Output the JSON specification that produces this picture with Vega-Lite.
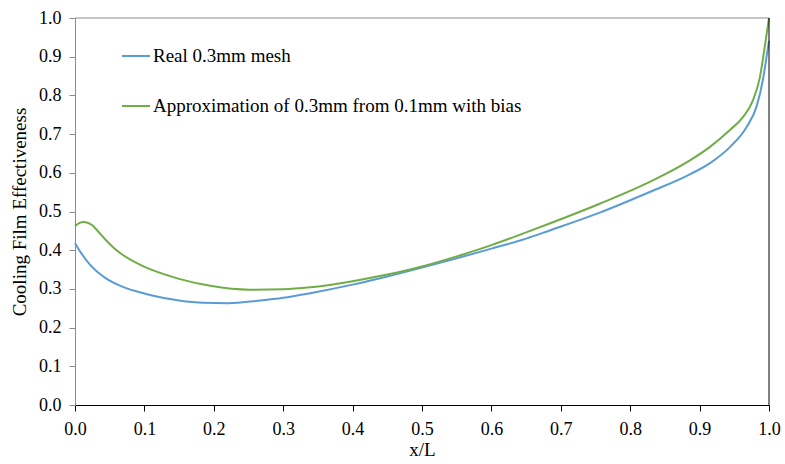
{
  "$schema": "https://vega.github.io/schema/vega-lite/v6.json",
  "width": 694,
  "height": 387,
  "autosize": {"type": "none"},
  "padding": {"left": 75, "top": 18, "right": 16, "bottom": 59},
  "background": "white",
  "config": {
    "view": {"stroke": null},
    "font": "Liberation Serif",
    "axis": {"labelFont": "Liberation Serif", "titleFont": "Liberation Serif", "labelColor": "#000", "titleColor": "#000", "titleFontWeight": "normal", "grid": false, "labelOverlap": false, "labelFlush": false}
  },
  "datasets": {
    "curves": [
      {"xL": 0, "eff": 0.418, "series": "Real 0.3mm mesh"},
      {"xL": 0.008, "eff": 0.395, "series": "Real 0.3mm mesh"},
      {"xL": 0.02, "eff": 0.366, "series": "Real 0.3mm mesh"},
      {"xL": 0.032, "eff": 0.344, "series": "Real 0.3mm mesh"},
      {"xL": 0.044, "eff": 0.328, "series": "Real 0.3mm mesh"},
      {"xL": 0.068, "eff": 0.306, "series": "Real 0.3mm mesh"},
      {"xL": 0.092, "eff": 0.292, "series": "Real 0.3mm mesh"},
      {"xL": 0.111, "eff": 0.283, "series": "Real 0.3mm mesh"},
      {"xL": 0.15, "eff": 0.27, "series": "Real 0.3mm mesh"},
      {"xL": 0.185, "eff": 0.264, "series": "Real 0.3mm mesh"},
      {"xL": 0.22, "eff": 0.263, "series": "Real 0.3mm mesh"},
      {"xL": 0.267, "eff": 0.27, "series": "Real 0.3mm mesh"},
      {"xL": 0.3, "eff": 0.277, "series": "Real 0.3mm mesh"},
      {"xL": 0.339, "eff": 0.289, "series": "Real 0.3mm mesh"},
      {"xL": 0.4, "eff": 0.311, "series": "Real 0.3mm mesh"},
      {"xL": 0.45, "eff": 0.332, "series": "Real 0.3mm mesh"},
      {"xL": 0.5, "eff": 0.355, "series": "Real 0.3mm mesh"},
      {"xL": 0.55, "eff": 0.379, "series": "Real 0.3mm mesh"},
      {"xL": 0.6, "eff": 0.404, "series": "Real 0.3mm mesh"},
      {"xL": 0.65, "eff": 0.43, "series": "Real 0.3mm mesh"},
      {"xL": 0.684, "eff": 0.451, "series": "Real 0.3mm mesh"},
      {"xL": 0.756, "eff": 0.497, "series": "Real 0.3mm mesh"},
      {"xL": 0.829, "eff": 0.551, "series": "Real 0.3mm mesh"},
      {"xL": 0.886, "eff": 0.596, "series": "Real 0.3mm mesh"},
      {"xL": 0.915, "eff": 0.625, "series": "Real 0.3mm mesh"},
      {"xL": 0.944, "eff": 0.667, "series": "Real 0.3mm mesh"},
      {"xL": 0.968, "eff": 0.719, "series": "Real 0.3mm mesh"},
      {"xL": 0.982, "eff": 0.771, "series": "Real 0.3mm mesh"},
      {"xL": 0.992, "eff": 0.848, "series": "Real 0.3mm mesh"},
      {"xL": 0.997, "eff": 0.906, "series": "Real 0.3mm mesh"},
      {"xL": 1.0, "eff": 0.941, "series": "Real 0.3mm mesh"},
      {"xL": 0, "eff": 0.462, "series": "Approximation of 0.3mm from 0.1mm with bias"},
      {"xL": 0.006, "eff": 0.47, "series": "Approximation of 0.3mm from 0.1mm with bias"},
      {"xL": 0.0125, "eff": 0.473, "series": "Approximation of 0.3mm from 0.1mm with bias"},
      {"xL": 0.0245, "eff": 0.465, "series": "Approximation of 0.3mm from 0.1mm with bias"},
      {"xL": 0.034, "eff": 0.447, "series": "Approximation of 0.3mm from 0.1mm with bias"},
      {"xL": 0.044, "eff": 0.427, "series": "Approximation of 0.3mm from 0.1mm with bias"},
      {"xL": 0.056, "eff": 0.406, "series": "Approximation of 0.3mm from 0.1mm with bias"},
      {"xL": 0.068, "eff": 0.389, "series": "Approximation of 0.3mm from 0.1mm with bias"},
      {"xL": 0.092, "eff": 0.364, "series": "Approximation of 0.3mm from 0.1mm with bias"},
      {"xL": 0.111, "eff": 0.349, "series": "Approximation of 0.3mm from 0.1mm with bias"},
      {"xL": 0.15, "eff": 0.326, "series": "Approximation of 0.3mm from 0.1mm with bias"},
      {"xL": 0.195, "eff": 0.308, "series": "Approximation of 0.3mm from 0.1mm with bias"},
      {"xL": 0.252, "eff": 0.298, "series": "Approximation of 0.3mm from 0.1mm with bias"},
      {"xL": 0.3, "eff": 0.299, "series": "Approximation of 0.3mm from 0.1mm with bias"},
      {"xL": 0.339, "eff": 0.304, "series": "Approximation of 0.3mm from 0.1mm with bias"},
      {"xL": 0.4, "eff": 0.32, "series": "Approximation of 0.3mm from 0.1mm with bias"},
      {"xL": 0.45, "eff": 0.337, "series": "Approximation of 0.3mm from 0.1mm with bias"},
      {"xL": 0.5, "eff": 0.358, "series": "Approximation of 0.3mm from 0.1mm with bias"},
      {"xL": 0.55, "eff": 0.384, "series": "Approximation of 0.3mm from 0.1mm with bias"},
      {"xL": 0.6, "eff": 0.413, "series": "Approximation of 0.3mm from 0.1mm with bias"},
      {"xL": 0.65, "eff": 0.446, "series": "Approximation of 0.3mm from 0.1mm with bias"},
      {"xL": 0.684, "eff": 0.469, "series": "Approximation of 0.3mm from 0.1mm with bias"},
      {"xL": 0.756, "eff": 0.52, "series": "Approximation of 0.3mm from 0.1mm with bias"},
      {"xL": 0.829, "eff": 0.577, "series": "Approximation of 0.3mm from 0.1mm with bias"},
      {"xL": 0.886, "eff": 0.632, "series": "Approximation of 0.3mm from 0.1mm with bias"},
      {"xL": 0.915, "eff": 0.667, "series": "Approximation of 0.3mm from 0.1mm with bias"},
      {"xL": 0.944, "eff": 0.711, "series": "Approximation of 0.3mm from 0.1mm with bias"},
      {"xL": 0.963, "eff": 0.745, "series": "Approximation of 0.3mm from 0.1mm with bias"},
      {"xL": 0.977, "eff": 0.788, "series": "Approximation of 0.3mm from 0.1mm with bias"},
      {"xL": 0.987, "eff": 0.848, "series": "Approximation of 0.3mm from 0.1mm with bias"},
      {"xL": 0.993, "eff": 0.915, "series": "Approximation of 0.3mm from 0.1mm with bias"},
      {"xL": 1.0, "eff": 1.0, "series": "Approximation of 0.3mm from 0.1mm with bias"}
    ]
  },
  "layer": [
    {
      "data": {"name": "curves"},
      "mark": {"type": "line", "strokeWidth": 2, "interpolate": "monotone", "clip": false},
      "encoding": {
        "x": {
          "field": "xL", "type": "quantitative",
          "scale": {"domain": [0, 1], "nice": false},
          "axis": {"title": "x/L", "values": [0, 0.1, 0.2, 0.3, 0.4, 0.5, 0.6, 0.7, 0.8, 0.9, 1.0], "tickCount": 11, "format": ".1f",
                   "labelFontSize": 18, "titleFontSize": 19, "domainColor": "#000", "tickColor": "#000", "tickSize": 6,
                   "labelPadding": 9, "titlePadding": 2, "labelOverlap": false}
        },
        "y": {
          "field": "eff", "type": "quantitative",
          "scale": {"domain": [0, 1], "nice": false},
          "axis": {"title": "Cooling Film Effectiveness", "values": [0, 0.1, 0.2, 0.3, 0.4, 0.5, 0.6, 0.7, 0.8, 0.9, 1.0], "tickCount": 11, "format": ".1f",
                   "labelFontSize": 18, "titleFontSize": 19, "domainColor": "#8c8c8c", "tickColor": "#8c8c8c", "tickSize": 6,
                   "labelPadding": 8, "titlePadding": 9, "labelOverlap": false}
        },
        "color": {
          "field": "series", "type": "nominal",
          "scale": {"domain": ["Real 0.3mm mesh", "Approximation of 0.3mm from 0.1mm with bias"], "range": ["#5b9bd5", "#70ad47"]},
          "legend": {
            "title": null, "orient": "none", "legendX": 46, "legendY": 23,
            "symbolType": "stroke", "symbolSize": 784, "symbolStrokeWidth": 2,
            "labelFontSize": 19, "labelFont": "Liberation Serif", "labelColor": "#000",
            "rowPadding": 25, "labelOffset": 2, "labelLimit": 600
          }
        }
      }
    },
    {
      "data": {"values": [{"yv": 1}]},
      "mark": {"type": "rule", "color": "#8c8c8c", "strokeWidth": 1},
      "encoding": {"y": {"field": "yv", "type": "quantitative"}}
    },
    {
      "data": {"values": [{"xv": 1}]},
      "mark": {"type": "rule", "color": "#000000", "strokeWidth": 1},
      "encoding": {"x": {"field": "xv", "type": "quantitative"}}
    }
  ]
}
